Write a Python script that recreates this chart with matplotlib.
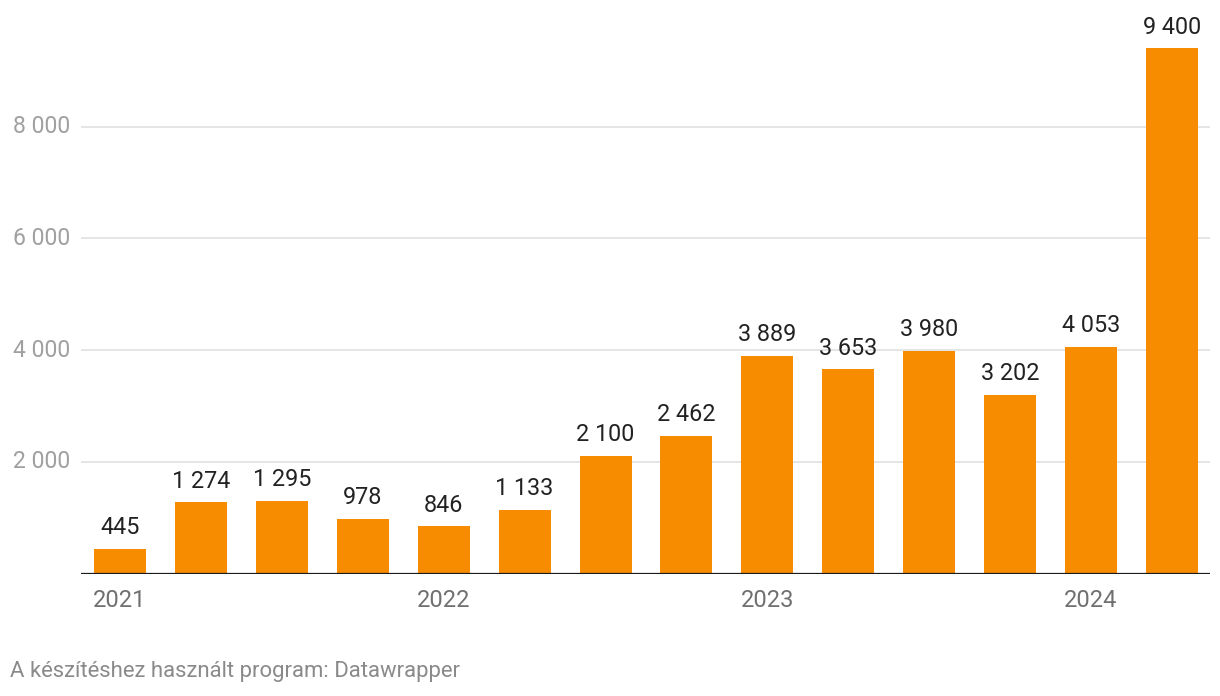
import matplotlib
matplotlib.use("Agg")
import matplotlib.pyplot as plt

categories = ["2021 Q1", "2021 Q2", "2021 Q3", "2021 Q4",
              "2022 Q1", "2022 Q2", "2022 Q3", "2022 Q4",
              "2023 Q1", "2023 Q2", "2023 Q3", "2023 Q4",
              "2024 Q1", "2024 Q2"]
values = [445, 1274, 1295, 978, 846, 1133, 2100, 2462, 3889, 3653, 3980, 3202, 4053, 9400]
year_ticks = [0, 4, 8, 12]
year_labels = ["2021", "2022", "2023", "2024"]
y_ticks = [2000, 4000, 6000, 8000]

plt.rcParams['font.family'] = ['Roboto', 'DejaVu Sans']

W, H = 1220, 696
fig = plt.figure(figsize=(W / 100, H / 100), dpi=100)
ax = fig.add_axes([81 / W, (H - 573.5) / H, (1210 - 81) / W, 573.5 / H])

def fmt(v):
    return f"{v:,}".replace(",", " ")

x = list(range(len(values)))
ax.bar(x, values, width=0.643, color="#f88c00", zorder=3)
for xi, v in zip(x, values):
    ax.annotate(fmt(v), (xi, v), xytext=(0, 7), textcoords="offset points",
                ha="center", va="bottom", fontsize=16.8, color="#222222", zorder=4)

ax.set_xlim(-0.482, len(values) - 1 + 0.47)
ax.set_ylim(0, 573.5 / 447 * 8000)

for yt in y_ticks:
    ax.axhline(yt, color="#e3e3e3", lw=1.3, zorder=1)
    ax.text(-0.482 - 11 / 80.9, yt, fmt(yt), ha="right", va="center",
            fontsize=16.6, color="#a0a0a0")

ax.axhline(0, color="#1a1a1a", lw=1.6, zorder=5)

ax.set_yticks([])
ax.set_xticks(year_ticks)
ax.set_xticklabels(year_labels, fontsize=17, color="#707070")
ax.tick_params(axis="x", length=0, pad=11)
for s in ax.spines.values():
    s.set_visible(False)

fig.text(10 / W, 1 - 672 / H, "A készítéshez használt program: Datawrapper",
         ha="left", va="center", fontsize=15.9, color="#8a8a8a")

fig.savefig("out.png", dpi=100)
